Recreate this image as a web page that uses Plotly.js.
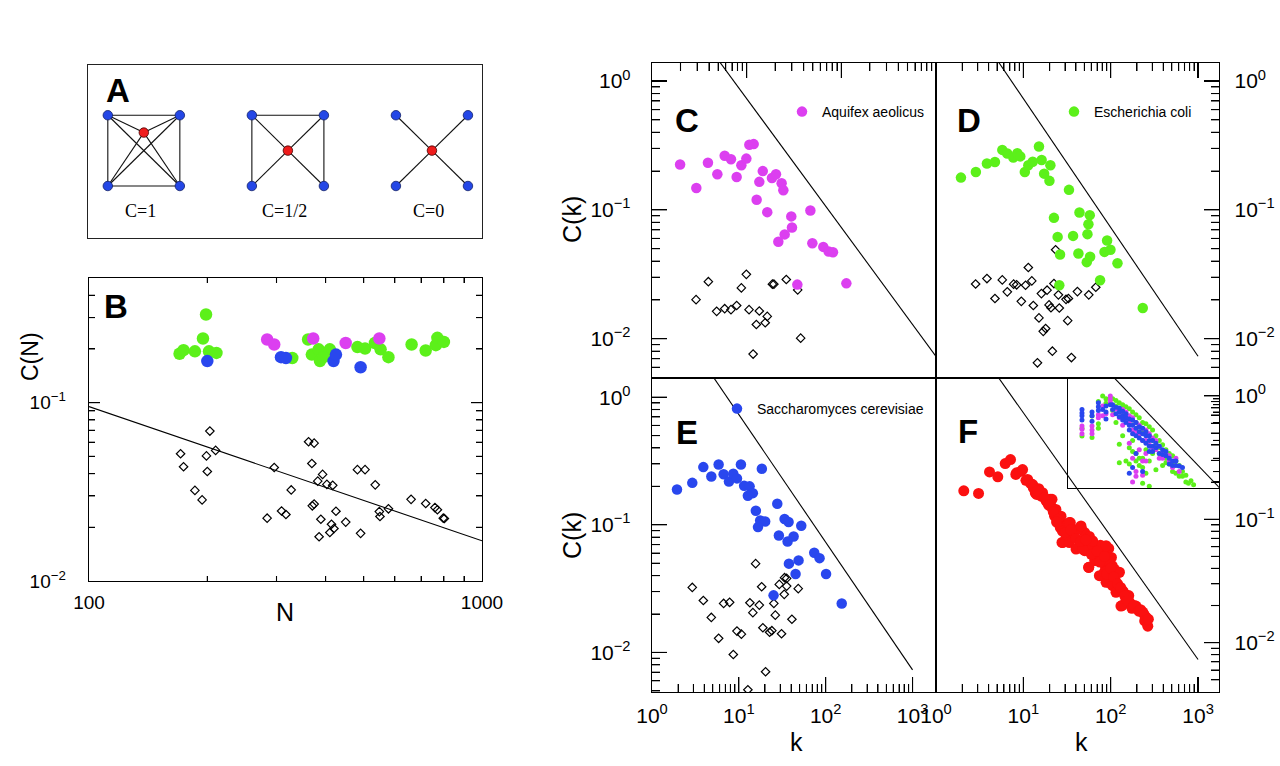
<!DOCTYPE html>
<html><head><meta charset="utf-8">
<script src="https://cdn.plot.ly/plotly-3.0.1.min.js"></script>
<style>html,body{margin:0;padding:0;background:#fff}#chart{width:1280px;height:766px}</style>
</head><body><div id="chart"></div>
<script>
// ---------------- DATA ----------------
const diagramOffsets = [0, 4, 8];
const diagramLabels = ['C=1', 'C=1/2', 'C=0'];
const cornerX = [-1, 1, -1, 1];
const cornerY = [1, 1, -1, -1];
const centerX = [0, 0, 0];
const centerY = [0.51, 0, 0];
const diagramEdges = [
  [[0,1],[0,2],[1,3],[2,3],[0,3],[1,2],[0,4],[1,4],[2,4],[3,4]],
  [[0,1],[0,2],[1,3],[0,4],[1,4],[2,4],[3,4]],
  [[0,4],[1,4],[2,4],[3,4]]
];
const bGreenN = [170,174,186,195,198.5,202,211,329,361,369,384,387,403,410,395,482,504,534,552,578,662,719,763,770,800];
const bGreenC = [0.188,0.197,0.194,0.229,0.312,0.194,0.19,0.178,0.226,0.186,0.199,0.171,0.19,0.199,0.18,0.205,0.201,0.216,0.199,0.18,0.212,0.196,0.21,0.231,0.219];
const bMagN = [284,296,372,450,548];
const bMagC = [0.226,0.212,0.229,0.216,0.229];
const bBlueN = [200,308,317,419,425,491];
const bBlueC = [0.171,0.18,0.178,0.171,0.186,0.158];
const bRandN = [171,174,186,194,199,200,203,210,284,296,309,317,327,362,374,369,370,374,382,389,393,385,403,410,414,417,420,425,450,482,491,504,535,548,550,578,660,719,759,770,797,802];
const bRandC = [0.0517,0.0437,0.0322,0.0285,0.0503,0.0411,0.0693,0.054,0.0225,0.0433,0.0247,0.0236,0.0324,0.0604,0.0593,0.0456,0.0264,0.027,0.0363,0.0222,0.0396,0.0177,0.0348,0.0187,0.0208,0.0344,0.0197,0.0246,0.0214,0.0421,0.0185,0.0421,0.0346,0.0245,0.023,0.0254,0.0287,0.0272,0.0258,0.0251,0.0225,0.0224];
const bFitN = [100, 1000];
const bFitC = [0.095, 0.0168];
const cK = [1.98,2.94,3.9,4.9,5.86,6.83,7.84,8.79,9.92,10.67,11.86,12.75,13.6,14.8,16.5,18.5,20.4,23.4,24.4,21.6,25.2,29.6,30.1,34.3,47.1,49.4,64.5,73.5,81.6,113];
const cC = [0.225,0.148,0.232,0.189,0.263,0.247,0.18,0.222,0.25,0.32,0.324,0.12,0.165,0.2,0.096,0.177,0.189,0.161,0.142,0.0565,0.0645,0.089,0.073,0.0263,0.099,0.055,0.0516,0.0475,0.0469,0.0269];
const cRandK = [2.92,3.94,4.82,5.86,6.83,7.84,8.79,9.92,10.6,12.65,13.6,15.7,16.5,18.7,19.4,26.2,34.6,37.2,11.7];
const cRandC = [0.0201,0.0277,0.0163,0.0171,0.0168,0.0181,0.0248,0.0316,0.0168,0.0129,0.0164,0.0133,0.0149,0.0265,0.0265,0.0288,0.0239,0.0101,0.0076];
const dK = [1.93,2.86,3.83,4.73,5.74,6.55,7.68,8.53,9.23,10.4,11.4,12.8,15.1,16.2,17.3,20.4,19.9,33.3,22.4,43.9,57.6,55.6,54.2,24.7,37.1,26.3,42.7,53.2,58.1,91,84.9,99.4,119.6,75.6,25.8,233];
const dC = [0.178,0.197,0.229,0.235,0.292,0.274,0.255,0.275,0.26,0.197,0.222,0.236,0.31,0.244,0.191,0.222,0.168,0.143,0.0867,0.0953,0.091,0.0774,0.0648,0.0617,0.0628,0.045,0.0458,0.0393,0.0432,0.0578,0.0472,0.049,0.0385,0.0284,0.026,0.0173];
const dRandK = [2.84,3.83,5.74,4.73,6.55,7.74,8.38,9.48,10.6,11.4,12.5,13,15.1,16.1,18.7,19.7,20.7,16.9,18,22.4,23.4,25.2,25.8,30.8,32.8,32.2,41.6,56.1,67.5,21.5,14.5,35.5];
const dRandC = [0.0266,0.0293,0.0286,0.0205,0.0231,0.0265,0.0262,0.0195,0.026,0.0357,0.0281,0.0181,0.0145,0.0224,0.0238,0.0183,0.0174,0.0114,0.012,0.0268,0.049,0.0219,0.0173,0.0202,0.0205,0.0138,0.0232,0.0219,0.0251,0.008,0.0065,0.00714];
const eK = [1.94,2.91,3.9,4.82,5.85,6.68,7.69,8.63,9.51,10.57,11.5,13.3,14.5,12.7,18.4,15.7,17.6,20.1,16.6,27.7,33.6,37.4,52.3,28.9,42.7,36.4,73.8,85,37.7,48.7,45,101,25.1,153];
const eC = [0.189,0.213,0.283,0.239,0.297,0.249,0.218,0.251,0.231,0.297,0.202,0.2,0.177,0.169,0.275,0.129,0.108,0.106,0.0959,0.146,0.111,0.105,0.0982,0.0825,0.081,0.074,0.0604,0.0548,0.0496,0.0526,0.0411,0.0411,0.028,0.0242];
const eRandK = [2.91,3.9,4.82,5.85,6.68,7.83,8.63,9.51,10.7,12.7,13.4,14.5,15.6,17.2,18.3,18.9,20.3,22.6,24,25.3,26.3,29.2,31,33.3,33.6,35.5,35.5,40.8,48.3];
const eRandC = [0.0323,0.0255,0.0188,0.0129,0.0242,0.0247,0.00964,0.0147,0.0139,0.0051,0.0245,0.0205,0.0496,0.0235,0.0327,0.0156,0.00706,0.0144,0.0148,0.0242,0.0196,0.0341,0.014,0.0285,0.0385,0.038,0.0331,0.0182,0.0316];
const fK = [2.08,3.07,4.1,5.1,6.2,7.13,8.2,9.46,10.7,12.1,13.7,15,16,18.2,20.3,21.3,23.8,22.8,26.5,30.8,34.5,27.7,32.4,38.7,46.2,50.4,57,43.7,50.4,58.5,66.8,76.2,94.9,56,65.6,79.6,87,102,104,123,113,79.6,95,118,141,161,135,168,
  8.36,9.8,11.2,12.8,14.2,16.6,19,21.3,23.6,27,29.5,33.6,36.7,41.9,45.7,49.9,54.5,62.2,56,67.9,81,88.5,96.6,110,126,88.5,105,115,137,150,131,164,195,233,254,266,28.2,33.6,40.1,47.8,74.2,84.7,
  13,14.5,17.5,19.5,22,25,24,28,31,30,35,40,45,52,60,70,75,85,90,100,108,120,130,145,155,175,185,210,220,240,245,270];
const fC = [0.17,0.162,0.242,0.221,0.283,0.305,0.231,0.245,0.207,0.195,0.164,0.177,0.154,0.141,0.145,0.124,0.11,0.106,0.0857,0.091,0.094,0.0649,0.0725,0.0711,0.0841,0.078,0.0725,0.0602,0.0556,0.061,0.0573,0.0617,0.058,0.0407,0.0462,0.0476,0.0415,0.0491,0.042,0.0371,0.0318,0.0349,0.0308,0.0272,0.0256,0.0241,0.02,0.0206,
  0.238,0.253,0.21,0.191,0.159,0.164,0.136,0.145,0.12,0.106,0.0883,0.094,0.0757,0.083,0.0883,0.069,0.061,0.0669,0.0408,0.0506,0.0538,0.061,0.0448,0.0395,0.0372,0.0308,0.029,0.0256,0.0264,0.0226,0.0198,0.0213,0.0198,0.0177,0.0161,0.0136,0.0648,0.0648,0.0573,0.0573,0.0349,0.0372,
  0.18,0.17,0.15,0.13,0.115,0.1,0.095,0.08,0.075,0.078,0.082,0.07,0.066,0.068,0.052,0.055,0.045,0.05,0.036,0.04,0.034,0.03,0.028,0.024,0.022,0.019,0.02,0.018,0.0185,0.017,0.015,0.0155];
const inGreenK = [1.76,1.76,2.64,2.64,3.41,3.41,3.41,4.06,4.64,4.64,5.53,6.07,6.95,6.95,7.95,7.95,7.95,9.1,9.1,9.1,10.4,10.4,11.9,11.9,11.9,13.6,13.6,15.6,15.6,17.8,17.8,17.8,20.4,20.4,20.4,23.3,23.3,23.3,26.7,26.7,26.7,30.5,30.5,34.9,34.9,40,40,45.7,45.7,52.3,52.3,59.8,68.4,68.4,78.3,89.6,102,117,144,102,
  6.07,6.95,7.95,9.1,10.4,11.9,13.6,15.6,17.8,20.4,23.3,26.7,30.5,34.9,40,45.7,52.3,59.8,68.4,78.3,89.6,117,130,160,13.6,15.6,17.8,20.4];
const inGreenC = [0.16,0.119,0.258,0.112,0.45,0.19,0.16,0.56,0.5,0.42,0.52,0.5,0.47,0.2,0.43,0.086,0.042,0.4,0.29,0.12,0.37,0.045,0.34,0.075,0.04,0.3,0.1,0.27,0.06,0.24,0.05,0.14,0.2,0.019,0.035,0.19,0.07,0.028,0.17,0.017,0.045,0.15,0.06,0.12,0.032,0.1,0.075,0.085,0.038,0.07,0.05,0.06,0.055,0.04,0.045,0.038,0.03,0.026,0.021,0.025,
  0.32,0.38,0.34,0.33,0.28,0.25,0.22,0.2,0.18,0.15,0.14,0.12,0.1,0.085,0.06,0.055,0.042,0.04,0.03,0.028,0.025,0.02,0.019,0.018,0.065,0.045,0.038,0.05];
const inMagK = [1.76,1.76,1.76,2.64,2.64,2.64,3.41,3.41,4.06,4.06,4.64,5.53,5.53,5.53,6.95,7.95,9.1,9.1,10.4,11.9,11.9,13.6,13.6,13.6,15.6,15.6,15.6,17.8,20.4,20.4,23.3,23.3,26.7,30.5,34.9,40,45.7,59.8,68.4,78.3,89.6,
  6.07,7.95,9.1,10.4,11.9,13.6,15.6,17.8,20.4,23.3,26.7,30.5,34.9,40,45.7,52.3,59.8,23.3,17.8,20.4];
const inMagC = [0.175,0.154,0.13,0.175,0.15,0.13,0.27,0.24,0.38,0.26,0.28,0.56,0.49,0.43,0.34,0.3,0.18,0.33,0.22,0.26,0.09,0.15,0.05,0.02,0.2,0.03,0.025,0.13,0.1,0.026,0.15,0.045,0.085,0.11,0.07,0.05,0.062,0.045,0.035,0.05,0.03,
  0.27,0.24,0.26,0.3,0.2,0.24,0.14,0.18,0.16,0.1,0.13,0.075,0.1,0.08,0.05,0.06,0.055,0.06,0.07,0.045];
const inBlueK = [1.76,1.76,1.76,1.76,2.64,2.64,2.64,3.41,3.41,3.41,4.06,4.64,4.64,4.64,6.07,6.95,7.95,7.95,9.1,10.4,10.4,11.9,11.9,13.6,13.6,15.6,17.8,17.8,20.4,20.4,23.3,23.3,26.7,26.7,30.5,34.9,40,45.7,52.3,59.8,68.4,78.3,89.6,102,
  5.53,6.07,6.95,7.95,9.1,9.1,10.4,11.9,11.9,13.6,15.6,15.6,17.8,20.4,20.4,23.3,26.7,26.7,30.5,30.5,34.9,40,45.7,52.3,59.8,68.4,78.3,15.6,13.6];
const inBlueC = [0.33,0.29,0.26,0.22,0.3,0.26,0.21,0.43,0.37,0.32,0.33,0.38,0.3,0.23,0.4,0.36,0.3,0.25,0.26,0.24,0.2,0.18,0.028,0.22,0.13,0.16,0.11,0.17,0.13,0.03,0.09,0.12,0.1,0.065,0.08,0.09,0.06,0.07,0.055,0.05,0.045,0.038,0.037,0.035,
  0.4,0.33,0.28,0.35,0.31,0.22,0.28,0.23,0.15,0.18,0.2,0.12,0.14,0.1,0.16,0.14,0.08,0.12,0.1,0.065,0.075,0.08,0.058,0.065,0.04,0.038,0.045,0.06,0.035];
const refLineK = [1, 1000];
const refLineC = [7.3, 0.0073];
const kTickVals = [1, 10, 100, 1000];
const kTickText = ['10<sup>0</sup>', '10<sup>1</sup>', '10<sup>2</sup>', '10<sup>3</sup>'];
const kMinor = [2,3,4,5,6,7,8,9,20,30,40,50,60,70,80,90,200,300,400,500,600,700,800,900];
const cTickVals = [0.01, 0.1, 1];
const cTickText = ['10<sup>\u22122</sup>', '10<sup>\u22121</sup>', '10<sup>0</sup>'];
const cMinor = [0.005,0.006,0.007,0.008,0.009,0.02,0.03,0.04,0.05,0.06,0.07,0.08,0.09,0.2,0.3,0.4,0.5,0.6,0.7,0.8,0.9];
const nTickVals = [100, 1000];
const nTickText = ['100', '1000'];
const nMinor = [200,300,400,500,600,700,800,900];
const bYTickVals = [0.01, 0.1];
const bYTickText = ['10<sup>\u22122</sup>', '10<sup>\u22121</sup>'];
const bYMinor = [0.02,0.03,0.04,0.05,0.06,0.07,0.08,0.09,0.2,0.3,0.4];
const insetTickVals = [0.02,0.03,0.05,0.1,0.2,0.3,0.4,0.5];

// ---------------- STYLE ----------------
const W = 1280, H = 766;
const px = x => x / W;
const py = y => 1 - y / H;
const FONT = 'Liberation Sans, Arial, Helvetica, sans-serif';
const MAG = '#dc3ff0', GRN = '#5cf01a', BLU = '#2947ee', RED = '#fb1010';
function domX(a, b) { return [px(a), px(b)]; }
function domY(top, bottom) { return [py(bottom), py(top)]; }
function logAxis(o) {
  return Object.assign({
    type: 'log', showgrid: false, zeroline: false, showline: true, linecolor: '#000', linewidth: 1.3,
    mirror: true, ticks: 'inside', ticklen: 15, tickwidth: 1.1, tickcolor: '#000',
    tickmode: 'array', tickfont: {family: FONT, size: 21, color: '#000'}
  }, o);
}
const traces = [];
const edgeX = [], edgeY = [], blueX = [], blueY = [], redX = [], redY = [];
diagramOffsets.forEach((off, d) => {
  const nx = cornerX.map(v => v + off).concat([centerX[d] + off]);
  const ny = cornerY.slice().concat([centerY[d]]);
  diagramEdges[d].forEach(([a, b]) => { edgeX.push(nx[a], nx[b], null); edgeY.push(ny[a], ny[b], null); });
  for (let i = 0; i < 4; i++) { blueX.push(nx[i]); blueY.push(ny[i]); }
  redX.push(nx[4]); redY.push(ny[4]);
});
traces.push({x: edgeX, y: edgeY, xaxis: 'x', yaxis: 'y', mode: 'lines', line: {color: '#111', width: 1.1}, showlegend: false});
traces.push({x: blueX, y: blueY, xaxis: 'x', yaxis: 'y', mode: 'markers', marker: {color: '#2447e6', size: 9.5, line: {color: '#10206a', width: 0.8}}, showlegend: false});
traces.push({x: redX, y: redY, xaxis: 'x', yaxis: 'y', mode: 'markers', marker: {color: '#ee1c1c', size: 9.5, line: {color: '#400', width: 0.8}}, showlegend: false});
const dot = (x, y, ax, color, size, extra) => Object.assign({x, y, xaxis: 'x' + ax, yaxis: 'y' + ax, mode: 'markers', marker: {color, size}, showlegend: false}, extra || {});
const dia = (x, y, ax) => ({x, y, xaxis: 'x' + ax, yaxis: 'y' + ax, mode: 'markers', marker: {symbol: 'diamond-open', size: 6.5, color: '#000', line: {width: 1.2, color: '#000'}}, showlegend: false});
const ref = (x, y, ax) => ({x, y, xaxis: 'x' + ax, yaxis: 'y' + ax, mode: 'lines', line: {color: '#000', width: 1.1}, showlegend: false});
traces.push(ref(bFitN, bFitC, 2));
traces.push(dia(bRandN, bRandC, 2));
traces.push(dot(bGreenN, bGreenC, 2, GRN, 12.5));
traces.push(dot(bMagN, bMagC, 2, MAG, 12.5));
traces.push(dot(bBlueN, bBlueC, 2, BLU, 12.5));
traces.push(ref(refLineK, refLineC, 3));
traces.push(dia(cRandK, cRandC, 3));
traces.push(dot(cK, cC, 3, MAG, 10.5, {name: 'Aquifex aeolicus', showlegend: true, legend: 'legend'}));
traces.push(ref(refLineK, refLineC, 4));
traces.push(dia(dRandK, dRandC, 4));
traces.push(dot(dK, dC, 4, GRN, 10.5, {name: 'Escherichia coli', showlegend: true, legend: 'legend2'}));
traces.push(ref(refLineK, refLineC, 5));
traces.push(dia(eRandK, eRandC, 5));
traces.push(dot(eK, eC, 5, BLU, 10.5, {name: 'Saccharomyces cerevisiae', showlegend: true, legend: 'legend3'}));
traces.push(ref(refLineK, refLineC, 6));
traces.push(dot(fK, fC, 6, RED, 11));
traces.push(ref(refLineK, refLineC, 7));
traces.push(dot(inGreenK, inGreenC, 7, GRN, 5));
traces.push(dot(inMagK, inMagC, 7, MAG, 5));
traces.push(dot(inBlueK, inBlueC, 7, BLU, 5));

const kMinorCfg = {tickvals: kMinor, ticklen: 8, tickwidth: 1, tickcolor: '#000', ticks: 'inside'};
const cMinorCfg = {tickvals: cMinor, ticklen: 8, tickwidth: 1, tickcolor: '#000', ticks: 'inside'};
const legendBase = {xanchor: 'left', yanchor: 'middle', bgcolor: 'rgba(0,0,0,0)', font: {family: FONT, size: 14, color: '#000'}};
const layout = {
  width: W, height: H, margin: {l: 0, r: 0, t: 0, b: 0},
  paper_bgcolor: '#fff', plot_bgcolor: 'rgba(0,0,0,0)',
  font: {family: FONT, color: '#000'}, hovermode: false,
  xaxis: {domain: domX(88, 482), range: [-1.55, 9.39], showgrid: false, zeroline: false, showticklabels: false, showline: true, mirror: true, linecolor: '#222', linewidth: 1.3},
  yaxis: {domain: domY(65, 238), range: [-2.47, 2.42], showgrid: false, zeroline: false, showticklabels: false, showline: true, mirror: true, linecolor: '#222', linewidth: 1.3},
  xaxis2: logAxis({domain: domX(89, 482), range: [2, 3], anchor: 'y2', tickvals: nTickVals, ticktext: nTickText,
          mirror: 'allticks', ticklen: 6, tickfont: {family: FONT, size: 19, color: '#000'}, ticklabelstandoff: 4,
          minor: {tickvals: nMinor, ticklen: 5, tickwidth: 1, tickcolor: '#000', ticks: 'inside'}}),
  yaxis2: logAxis({domain: domY(278, 581), range: [-2, Math.log10(0.5)], anchor: 'x2', tickvals: bYTickVals, ticktext: bYTickText,
          mirror: 'allticks', ticklen: 11, tickfont: {family: FONT, size: 19, color: '#000'}, ticklabelstandoff: 18,
          minor: {tickvals: bYMinor, ticklen: 6, tickwidth: 1, tickcolor: '#000', ticks: 'inside'}}),
  xaxis3: logAxis({domain: domX(652, 936), range: [0, 3], anchor: 'y3', side: 'top', showticklabels: false, tickvals: kTickVals, ticktext: kTickText, minor: kMinorCfg}),
  yaxis3: logAxis({domain: domY(63, 378), range: [-2.305, 0.14], anchor: 'x3', tickvals: cTickVals, ticktext: cTickText, ticklabelstandoff: 16, minor: cMinorCfg}),
  xaxis4: logAxis({domain: domX(936, 1219), range: [0, 3.24], anchor: 'y4', side: 'top', showticklabels: false, tickvals: kTickVals, ticktext: kTickText, minor: kMinorCfg}),
  yaxis4: logAxis({domain: domY(63, 378), range: [-2.305, 0.14], anchor: 'x4', side: 'right', tickvals: cTickVals, ticktext: cTickText, ticklabelstandoff: 10, minor: cMinorCfg}),
  xaxis5: logAxis({domain: domX(652, 936), range: [0, 3.27], anchor: 'y5', tickvals: kTickVals, ticktext: kTickText, ticklabelstandoff: 4, minor: kMinorCfg}),
  yaxis5: logAxis({domain: domY(378, 692), range: [-2.31, 0.15], anchor: 'x5', tickvals: cTickVals, ticktext: cTickText, ticklabelstandoff: 16, minor: cMinorCfg}),
  xaxis6: logAxis({domain: domX(936, 1219), range: [0, 3.24], anchor: 'y6', tickvals: kTickVals, ticktext: kTickText, ticklabelstandoff: 4, minor: kMinorCfg}),
  yaxis6: logAxis({domain: domY(378, 692), range: [-2.40, 0.145], anchor: 'x6', side: 'right', tickvals: cTickVals, ticktext: cTickText, ticklabelstandoff: 10, minor: cMinorCfg}),
  xaxis7: {type: 'log', domain: domX(1068, 1219), range: [0, 2.65], anchor: 'y7', showgrid: false, zeroline: false, showticklabels: false, showline: true, mirror: true, linecolor: '#000', linewidth: 1.3},
  yaxis7: logAxis({domain: domY(378, 488), range: [-1.8, 0.05], anchor: 'x7', side: 'right', showticklabels: false, tickvals: insetTickVals, ticklen: 6, tickwidth: 1}),
  legend: Object.assign({x: px(782), y: py(112)}, legendBase),
  legend2: Object.assign({x: px(1054), y: py(112)}, legendBase),
  legend3: Object.assign({x: px(717), y: py(409)}, legendBase)
};

// Tick marks also drawn as axis-domain shapes (positions follow each axis' log range)
const shapes = [];
function tickShapes(n, letter, vals, len, sides) {
  const xa = layout['xaxis' + n], ya = layout['yaxis' + n];
  const ax = letter === 'x' ? xa : ya;
  const r0 = ax.range[0], r1 = ax.range[1];
  const sizePx = letter === 'x' ? (ya.domain[1] - ya.domain[0]) * H : (xa.domain[1] - xa.domain[0]) * W;
  const l = len / sizePx;
  vals.forEach(v => {
    const f = (Math.log10(v) - r0) / (r1 - r0);
    if (f <= 0.002 || f >= 0.998) return;
    sides.forEach(s => {
      const base = {type: 'line', xref: 'x' + n + ' domain', yref: 'y' + n + ' domain', line: {color: '#000', width: 1.1}, layer: 'above'};
      if (letter === 'x') shapes.push(Object.assign(base, {x0: f, x1: f, y0: s === 'bottom' ? 0 : 1, y1: s === 'bottom' ? l : 1 - l}));
      else shapes.push(Object.assign(base, {y0: f, y1: f, x0: s === 'left' ? 0 : 1, x1: s === 'left' ? l : 1 - l}));
    });
  });
}
tickShapes(2, 'x', nMinor, 5, ['bottom', 'top']);
tickShapes(2, 'y', bYTickVals, 11, ['left', 'right']);
tickShapes(2, 'y', bYMinor, 6, ['left', 'right']);
[[3, 'top', 'left'], [4, 'top', 'right'], [5, 'bottom', 'left'], [6, 'bottom', 'right']].forEach(([n, xs, ys]) => {
  tickShapes(n, 'x', kTickVals, 15, [xs]);
  tickShapes(n, 'x', kMinor, 8, [xs]);
  tickShapes(n, 'y', cTickVals, 15, [ys]);
  tickShapes(n, 'y', cMinor, 8, [ys]);
});
tickShapes(7, 'y', insetTickVals, 6, ['right']);
layout.shapes = shapes;

const annotations = [];
const panelLetters = ['A', 'B', 'C', 'D', 'E', 'F'];
const panelLetterPos = [[118, 88], [116, 304], [687, 118], [969, 118], [687, 430], [968, 429]];
panelLetters.forEach((t, i) => annotations.push({
  text: '<b>' + t + '</b>', xref: 'paper', yref: 'paper', x: px(panelLetterPos[i][0]), y: py(panelLetterPos[i][1]),
  xanchor: 'center', yanchor: 'middle', showarrow: false, font: {family: FONT, size: 33, color: '#000'}, yshift: -2
}));
diagramLabels.forEach((t, i) => annotations.push({
  text: t, xref: 'x', yref: 'y', x: diagramOffsets[i] - 0.1, y: -1.72, showarrow: false,
  xanchor: 'center', yanchor: 'middle', font: {family: 'Liberation Serif, Times New Roman, serif', size: 18, color: '#000'}
}));
const axisTitles = [
  {text: 'C(N)', x: 30, y: 357, rot: -90, size: 23},
  {text: 'N', x: 285, y: 612, rot: 0, size: 25},
  {text: 'C(k)', x: 572, y: 220, rot: -90, size: 25},
  {text: 'C(k)', x: 572, y: 536, rot: -90, size: 25},
  {text: 'k', x: 796, y: 742, rot: 0, size: 25},
  {text: 'k', x: 1081, y: 742, rot: 0, size: 25}
];
axisTitles.forEach(a => annotations.push({
  text: a.text, xref: 'paper', yref: 'paper', x: px(a.x), y: py(a.y), textangle: a.rot, showarrow: false,
  xanchor: 'center', yanchor: 'middle', font: {family: FONT, size: a.size, color: '#000'}
}));
layout.annotations = annotations;

Plotly.newPlot('chart', traces, layout, {staticPlot: true, displayModeBar: false});
</script></body></html>
